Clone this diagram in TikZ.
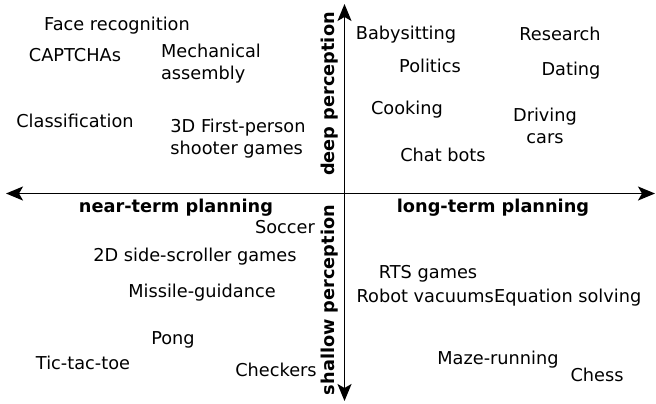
\documentclass[tikz,border=0pt]{standalone}
\usepackage{fontspec}
\setmainfont{DejaVu Sans}
\usetikzlibrary{arrows.meta}

\tikzset{
    item/.style={inner sep=0pt, text height=13bp, text depth=0pt, font=\fontsize{17.8}{21.5}\selectfont},
    twoline/.style={item, text height=34.5bp},
    quadlabel/.style={item, font=\fontsize{17.8}{21.5}\selectfont\bfseries},
    axisline/.style={line width=1.6bp, <->, >={Stealth[length=17bp,width=14bp,inset=4bp]}}
}

\begin{document}
\begin{tikzpicture}[x=1bp,y=-1bp]
            \useasboundingbox (0,0) rectangle (656,403);

            % Draw the two axes
            \coordinate (west) at (6,193.5);
            \coordinate (east) at (655,193.5);
            \coordinate (north) at (344.5,4);
            \coordinate (south) at (344.5,401);
            \draw[axisline] (west) -- (east);
            \draw[axisline] (north) -- (south);

            % Axis labels
            \node[quadlabel, rotate=90] (deep) at (328,94) {deep perception};
            \node[quadlabel, rotate=90] (shallow) at (328,300) {shallow perception};
            \node[quadlabel] (near) at (176,206) {near-term planning};
            \node[quadlabel] (long) at (493,206) {long-term planning};

            % Top left
            \node[item] (face) at (117,24) {Face recognition};
            \node[item] (captcha) at (75,55) {CAPTCHAs};
            \node[twoline, align=left] (mech) at (211,62) {Mechanical\\assembly};
            \node[item] (classif) at (75,121) {Classification};
            \node[twoline, align=left] (fps) at (238,137) {3D First-person\\shooter games};

            % Top right
            \node[item] (baby) at (406,33) {Babysitting};
            \node[item] (research) at (560,34) {Research};
            \node[item] (politics) at (430,66) {Politics};
            \node[item] (dating) at (571,69) {Dating};
            \node[item] (cooking) at (407,108) {Cooking};
            \node[twoline, align=center] (driving) at (545,126) {Driving\\cars};
            \node[item] (chat) at (443,155) {Chat bots};

            % Bottom left
            \node[item] (soccer) at (285,227) {Soccer};
            \node[item] (side) at (195,255) {2D side-scroller games};
            \node[item] (missile) at (202,291) {Missile-guidance};
            \node[item] (pong) at (173,338) {Pong};
            \node[item] (tictac) at (83,363) {Tic-tac-toe};
            \node[item] (checkers) at (276,370) {Checkers};

            % Bottom right
            \node[item] (rts) at (428,272) {RTS games};
            \node[item, anchor=east] (robot) at (494,296) {Robot vacuums};
            \node[item, anchor=west] (equation) at (494,296) {Equation solving};
            \node[item] (maze) at (498,358) {Maze-running};
            \node[item] (chess) at (597,375) {Chess};

        \end{tikzpicture}
\end{document}
